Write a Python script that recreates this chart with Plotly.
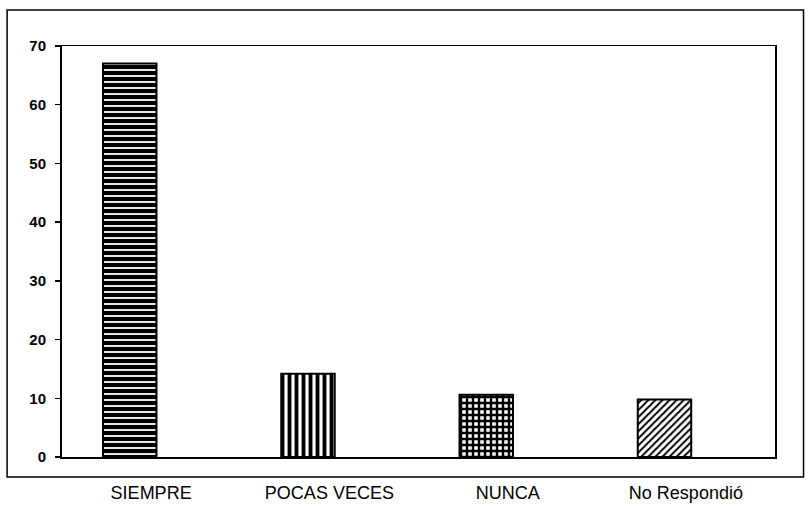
import plotly.graph_objects as go

categories = ["SIEMPRE", "POCAS VECES", "NUNCA", "No Respondió"]
values = [67, 14.2, 10.6, 9.8]
y_ticks = [0, 10, 20, 30, 40, 50, 60, 70]

pattern_shapes = ["-", "|", "+", "/"]
pattern_sizes = [6, 7, 6, 5]
pattern_solid = [0.7, 0.55, 0.65, 0.4]

fig = go.Figure()
for cat, val, shp, sz, so in zip(categories, values, pattern_shapes, pattern_sizes, pattern_solid):
    fig.add_trace(go.Bar(
        x=[cat], y=[val],
        width=0.3, offset=-0.27,
        marker=dict(
            color="white",
            line=dict(color="black", width=2),
            pattern=dict(shape=shp, fgcolor="black", bgcolor="white", size=sz,
                         solidity=so, fillmode="replace", fgopacity=1),
        ),
        showlegend=False,
        hoverinfo="skip",
    ))

fig.update_layout(
    width=809, height=507,
    margin=dict(l=62, r=34, t=46, b=50),
    paper_bgcolor="white", plot_bgcolor="white",
    font=dict(family="Liberation Sans, Arial, sans-serif", color="black"),
    barmode="overlay",
    xaxis=dict(
        type="category", categoryorder="array", categoryarray=categories,
        range=[-0.5, 3.5], automargin=False,
        showline=True, linecolor="black", linewidth=1.5, mirror=True,
        ticks="", ticklabelstandoff=19,
        tickfont=dict(size=18),
        showgrid=False, zeroline=False,
    ),
    yaxis=dict(
        range=[0, 70], tickvals=y_ticks, automargin=False,
        showline=True, linecolor="black", linewidth=2, mirror=True,
        ticks="outside", ticklen=5, tickwidth=1.5, tickcolor="black",
        tickfont=dict(size=15, family="Liberation Sans, Arial, sans-serif", weight="bold"),
        ticklabelstandoff=6,
        showgrid=False, zeroline=False,
    ),
    shapes=[dict(
        type="rect", xref="paper", yref="paper",
        x0=-0.077, x1=1.04, y0=-0.0487, y1=1.0876,
        line=dict(color="black", width=1.5), fillcolor="rgba(0,0,0,0)",
        layer="below",
    )],
)

fig.write_html(
    "out.html",
    config={"displayModeBar": False, "staticPlot": True},
    post_script="document.body.style.margin='0';document.body.style.overflow='hidden';",
)
